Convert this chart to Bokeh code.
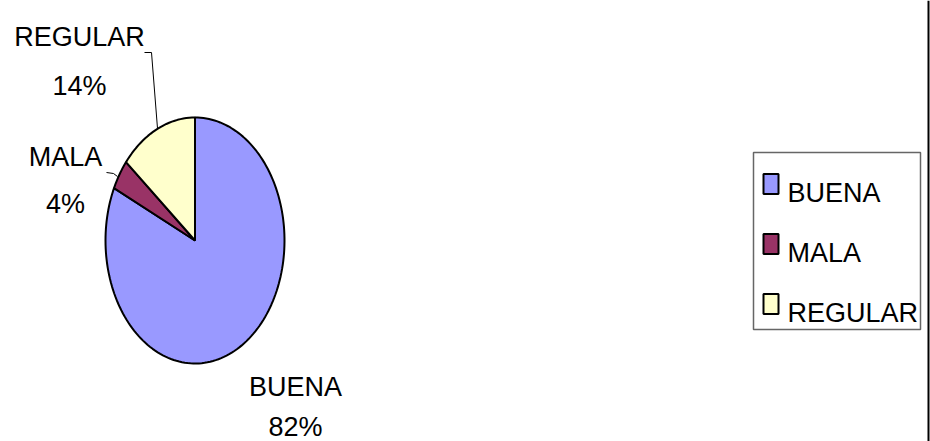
import numpy as np
from bokeh.plotting import figure
from bokeh.models import Range1d
from bokeh.core.properties import value
from bokeh.embed import file_html
from bokeh.resources import INLINE

# ---- data ----
categories = ["BUENA", "MALA", "REGULAR"]
percents = [82, 4, 14]
colors = ["#9999FF", "#993366", "#FFFFCC"]

# ---- layout (screen pixel coordinates) ----
W, H = 930, 441
CX, CY = 194.5, 240.0
RX, RY = 89.5, 123.0
FONT = value("Liberation Sans")
FS = "27px"

p = figure(width=W, height=H, output_backend="svg", toolbar_location=None,
           x_range=Range1d(0, W), y_range=Range1d(H, 0),
           x_axis_type=None, y_axis_type=None, min_border=0)
p.grid.visible = False
p.outline_line_color = None
p.background_fill_color = "white"
p.border_fill_color = "white"

# pie slices (clockwise from 12 o'clock), elliptical
total = float(sum(percents))
xs, ys = [], []
start = 0.0
for v in percents:
    end = start + v / total * 2 * np.pi
    t = np.linspace(start, end, max(int(200 * v / total), 8))
    px = [CX] + list(CX + RX * np.sin(t)) + [CX]
    py = [CY] + list(CY - RY * np.cos(t)) + [CY]
    xs.append(px)
    ys.append(py)
    start = end
p.patches(xs=xs, ys=ys, fill_color=colors, line_color="black", line_width=2)

# data labels
lab_x = [295, 65, 79]
lab_y1 = [386, 156, 36]
lab_y2 = [426, 203, 85]
pct_txt = [f"{v}%" for v in percents]
p.text(x=lab_x, y=lab_y1, text=categories, text_font=FONT, text_font_size=FS,
       text_align="center", text_baseline="alphabetic", text_color="black")
p.text(x=lab_x, y=lab_y2, text=pct_txt, text_font=FONT, text_font_size=FS,
       text_align="center", text_baseline="alphabetic", text_color="black")

# leader lines
p.line(x=[144, 151, 157], y=[52, 52, 128], line_color="black", line_width=1)
p.line(x=[106, 113, 117], y=[172, 173, 176], line_color="black", line_width=1)

# legend
p.quad(left=[753], right=[920], top=[152], bottom=[329], fill_color=None,
       line_color="#666666", line_width=1.5)
leg_y = [183.5, 243.5, 303.5]
p.rect(x=[770.5] * 3, y=leg_y, width=15, height=20, fill_color=colors,
       line_color="black", line_width=2)
p.text(x=[787] * 3, y=[192, 252, 312], text=categories, text_font=FONT,
       text_font_size=FS, text_align="left", text_baseline="alphabetic",
       text_color="black")

# right border
p.line(x=[928, 928], y=[0, H], line_color="black", line_width=2)

open("out.html", "w").write(file_html(p, INLINE))
